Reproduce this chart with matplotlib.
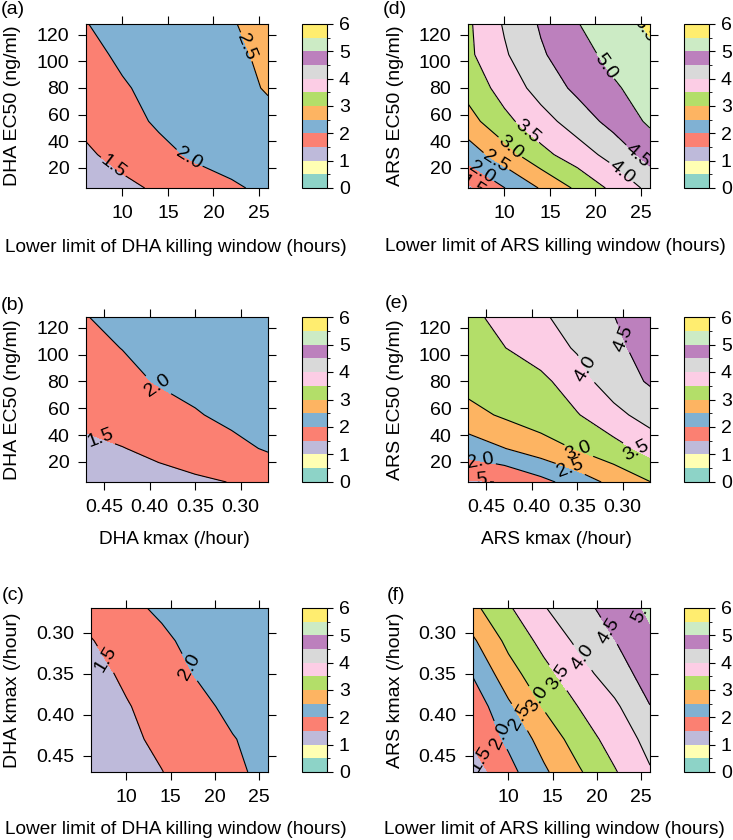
import numpy as np
import matplotlib
matplotlib.use("Agg")
import matplotlib.pyplot as plt
from matplotlib.colors import ListedColormap, BoundaryNorm
from matplotlib.cm import ScalarMappable

plt.rcParams['font.family'] = ['Liberation Sans', 'DejaVu Sans']

# ---------------- data ----------------
LEVELS = [0, 0.5, 1, 1.5, 2, 2.5, 3, 3.5, 4, 4.5, 5, 5.5, 6]
SET3 = ['#8DD3C7', '#FFFFB3', '#BEBADA', '#FB8072', '#80B1D3', '#FDB462',
        '#B3DE69', '#FCCDE5', '#D9D9D9', '#BC80BD', '#CCEBC5', '#FFED6F']
CBAR_TICKS = [0, 1, 2, 3, 4, 5, 6]

# (a) DHA: lower limit (x) vs EC50 (y)
a_x = [6, 10, 14, 18, 22, 26]
a_y = [5, 30, 55, 80, 105, 128]
a_z = [[1.21, 1.39, 1.57, 1.75, 1.93, 2.11],
       [1.43, 1.65, 1.86, 2.08, 2.20, 2.26],
       [1.61, 1.82, 2.07, 2.20, 2.30, 2.40],
       [1.74, 1.96, 2.12, 2.25, 2.38, 2.53],
       [1.88, 2.07, 2.20, 2.32, 2.44, 2.56],
       [1.99, 2.12, 2.24, 2.36, 2.48, 2.61]]

# (b) DHA: kmax (x) vs EC50 (y)
b_x = [0.47, 0.43, 0.39, 0.35, 0.31, 0.27]
b_y = [5, 30, 55, 80, 105, 128]
b_z = [[1.29, 1.34, 1.39, 1.44, 1.51, 1.60],
       [1.43, 1.49, 1.58, 1.70, 1.86, 2.05],
       [1.58, 1.67, 1.78, 1.96, 2.12, 2.25],
       [1.73, 1.86, 2.04, 2.15, 2.25, 2.32],
       [1.87, 2.01, 2.12, 2.22, 2.30, 2.37],
       [1.99, 2.10, 2.19, 2.27, 2.34, 2.40]]

# (c) DHA: lower limit (x) vs kmax (y)
c_x = [6, 10, 14, 18, 22, 26]
c_y = [0.27, 0.31, 0.35, 0.39, 0.43, 0.47]
c_z = [[1.66, 1.90, 2.07, 2.25, 2.38, 2.45],
       [1.48, 1.70, 1.92, 2.13, 2.30, 2.42],
       [1.35, 1.58, 1.80, 2.03, 2.20, 2.35],
       [1.26, 1.47, 1.68, 1.89, 2.10, 2.25],
       [1.21, 1.40, 1.60, 1.79, 1.98, 2.15],
       [1.10, 1.30, 1.49, 1.71, 1.91, 2.12]]

# (d) ARS: lower limit (x) vs EC50 (y)
d_x = [6, 10, 14, 18, 22, 26]
d_y = [5, 30, 55, 80, 105, 128]
d_z = [[1.40, 1.99, 2.54, 3.09, 3.62, 4.13],
       [2.23, 2.78, 3.35, 3.76, 4.18, 4.69],
       [2.81, 3.37, 3.81, 4.23, 4.67, 5.08],
       [3.17, 3.70, 4.19, 4.61, 4.93, 5.25],
       [3.40, 3.94, 4.44, 4.80, 5.16, 5.40],
       [3.42, 4.05, 4.55, 4.98, 5.28, 5.57]]

# (e) ARS: kmax (x) vs EC50 (y)
e_x = [0.47, 0.43, 0.39, 0.35, 0.31, 0.27]
e_y = [5, 30, 55, 80, 105, 128]
e_z = [[1.45, 1.52, 1.85, 2.23, 2.64, 2.99],
       [2.24, 2.49, 2.77, 3.04, 3.32, 3.68],
       [2.83, 3.07, 3.27, 3.47, 3.85, 4.21],
       [3.18, 3.27, 3.37, 3.79, 4.26, 4.55],
       [3.30, 3.49, 3.77, 4.05, 4.38, 4.70],
       [3.38, 3.65, 3.93, 4.21, 4.49, 4.77]]

# (f) ARS: lower limit (x) vs kmax (y)
f_x = [6, 10, 14, 18, 22, 26]
f_y = [0.27, 0.31, 0.35, 0.39, 0.43, 0.47]
f_z = [[2.88, 3.44, 3.97, 4.34, 4.70, 5.09],
       [2.43, 3.13, 3.65, 4.11, 4.49, 4.90],
       [2.04, 2.80, 3.35, 3.81, 4.26, 4.72],
       [1.69, 2.41, 3.04, 3.52, 3.91, 4.49],
       [1.58, 2.10, 2.69, 3.23, 3.71, 4.15],
       [1.25, 1.84, 2.42, 2.95, 3.46, 3.96]]

LIM_X = [10, 15, 20, 25]
EC50_TICKS = [20, 40, 60, 80, 100, 120]
KMAX_TICKS = [0.45, 0.40, 0.35, 0.30]

# ---------------- layout ----------------
W, H = 733, 840
fig = plt.figure(figsize=(W / 100, H / 100), dpi=100)


def rect(x0, y0, x1, y1):
    return [x0 / W, 1 - y1 / H, (x1 - x0) / W, (y1 - y0) / H]


def fpos(x, y):
    return x / W, 1 - y / H


cmap = ListedColormap(SET3)
norm = BoundaryNorm(LEVELS, cmap.N)

panels = [
    dict(x=a_x, y=a_y, z=a_z, box=(86, 24, 268, 188), cb=(302, 24, 327, 188),
         xlim=(6, 26), ylim=(5, 128), xt=LIM_X, yt=EC50_TICKS, xf='%d', yf='%d',
         xl='Lower limit of DHA killing window (hours)', yl='DHA EC50 (ng/ml)',
         tag='(a)', tagp=(12.5, 9), xlp=(176, 251.5), ylp=(12.5, 106),
         lab=[(9.0, 21), (17.5, 29), (24.0, 112)]),
    dict(x=b_x, y=b_y, z=b_z, box=(86, 317, 268, 482), cb=(302, 317, 327, 482),
         xlim=(0.47, 0.27), ylim=(5, 128), xt=KMAX_TICKS, yt=EC50_TICKS, xf='%.2f', yf='%d',
         xl='DHA kmax (/hour)', yl='DHA EC50 (ng/ml)',
         tag='(b)', tagp=(13, 305), xlp=(174, 543.5), ylp=(12.5, 399.5),
         lab=[(0.455, 36), (0.39, 78)]),
    dict(x=c_x, y=c_y, z=c_z, box=(91, 608, 268, 772), cb=(302, 608, 327, 772),
         xlim=(6, 26), ylim=(0.47, 0.27), xt=LIM_X, yt=KMAX_TICKS, xf='%d', yf='%.2f',
         xl='Lower limit of DHA killing window (hours)', yl='DHA kmax (/hour)',
         tag='(c)', tagp=(13, 595.5), xlp=(176, 834), ylp=(12.5, 690),
         lab=[(7.6, 0.333), (17.2, 0.342)]),
    dict(x=d_x, y=d_y, z=d_z, box=(468, 24, 650, 188), cb=(684, 24, 709, 188),
         xlim=(6, 26), ylim=(5, 128), xt=LIM_X, yt=EC50_TICKS, xf='%d', yf='%d',
         xl='Lower limit of ARS killing window (hours)', yl='ARS EC50 (ng/ml)',
         tag='(d)', tagp=(395, 9), xlp=(555.5, 251), ylp=(396, 106),
         lab=[(6.8, 9), (7.8, 20), (9.3, 27), (10.7, 36), (12.4, 46),
              (23.0, 18), (24.6, 29), (21.0, 96), (25.5, 124)]),
    dict(x=e_x, y=e_y, z=e_z, box=(468, 317, 650, 482), cb=(684, 317, 709, 482),
         xlim=(0.47, 0.27), ylim=(5, 128), xt=KMAX_TICKS, yt=EC50_TICKS, xf='%.2f', yf='%d',
         xl='ARS kmax (/hour)', yl='ARS EC50 (ng/ml)',
         tag='(e)', tagp=(397, 304), xlp=(556, 543.5), ylp=(396, 399.5),
         lab=[(0.462, 12), (0.455, 25), (0.357, 16), (0.348, 29),
              (0.285, 28), (0.338, 90), (0.300, 112)]),
    dict(x=f_x, y=f_y, z=f_z, box=(473, 608, 650, 772), cb=(684, 608, 709, 772),
         xlim=(6, 26), ylim=(0.47, 0.27), xt=LIM_X, yt=KMAX_TICKS, xf='%d', yf='%.2f',
         xl='Lower limit of ARS killing window (hours)', yl='ARS kmax (/hour)',
         tag='(f)', tagp=(396.5, 595), xlp=(554, 834), ylp=(396, 690),
         lab=[(6.9, 0.454), (8.9, 0.426), (10.8, 0.406), (12.7, 0.385),
              (14.8, 0.361), (17.0, 0.341), (21.2, 0.299), (24.4, 0.277)]),
]

FS = 14
FS_XL = 13.7
for p in panels:
    ax = fig.add_axes(rect(*p['box']))
    X, Y = np.meshgrid(p['x'], p['y'])
    Z = np.array(p['z'])
    ax.contourf(X, Y, Z, levels=LEVELS, cmap=cmap, norm=norm)
    cl = ax.contour(X, Y, Z, levels=LEVELS, colors='black', linewidths=0.8)
    ax.clabel(cl, inline=True, fmt='%.1f', fontsize=FS, manual=p['lab'],
              inline_spacing=2)
    ax.set_xlim(*p['xlim'])
    ax.set_ylim(*p['ylim'])
    ax.set_xticks(p['xt'])
    ax.set_xticklabels([p['xf'] % v for v in p['xt']])
    ax.set_yticks(p['yt'])
    ax.set_yticklabels([p['yf'] % v for v in p['yt']])
    ax.tick_params(direction='out', top=True, right=True, length=6, width=0.8,
                   labelsize=FS, pad=6)
    for s in ax.spines.values():
        s.set_linewidth(0.8)
    fig.text(*fpos(*p['xlp']), p['xl'], ha='center', va='baseline', fontsize=FS_XL)
    fig.text(*fpos(*p['ylp']), p['yl'], ha='center', va='center', rotation=90, fontsize=FS)
    fig.text(*fpos(*p['tagp']), p['tag'], ha='center', va='center', fontsize=FS)

    cax = fig.add_axes(rect(*p['cb']))
    sm = ScalarMappable(norm=norm, cmap=cmap)
    cb = fig.colorbar(sm, cax=cax, ticks=CBAR_TICKS)
    cb.outline.set_linewidth(0.8)
    cb.ax.tick_params(direction='out', length=4.5, width=0.8, labelsize=FS, pad=4)
    cb.ax.set_yticklabels([str(t) for t in CBAR_TICKS])

fig.savefig('out.png', dpi=100)
